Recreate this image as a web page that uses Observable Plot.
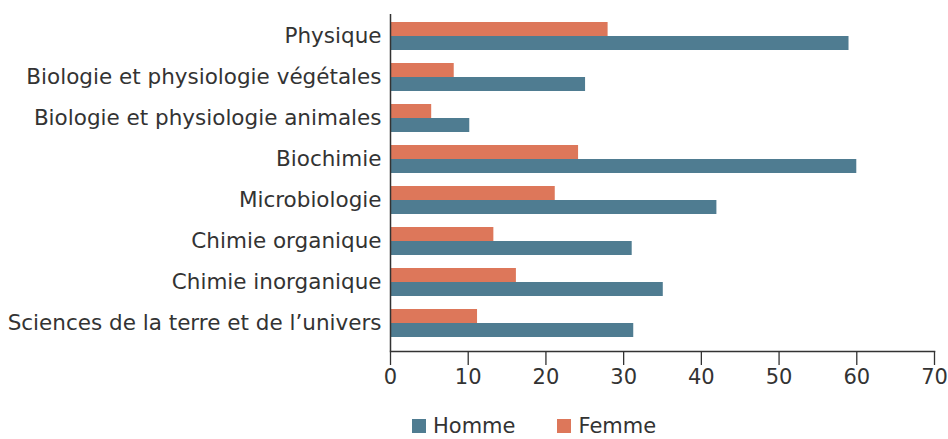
<!DOCTYPE html>
<html>
<head>
<meta charset="utf-8">
<script src="https://cdn.jsdelivr.net/npm/d3@7"></script>
<script src="https://cdn.jsdelivr.net/npm/@observablehq/plot@0.6"></script>
<style>
  html, body { margin: 0; padding: 0; background: #fff; }
  body { width: 948px; font-family: "DejaVu Sans", Verdana, sans-serif; color: #333; }
  #chart svg { display: block; }
  #legend { display: flex; justify-content: flex-start; height: 20px; line-height: 20px; margin-top: 16px; align-items: center; font-size: 21px; padding-left: 412px; box-sizing: border-box; }
  .item { display: flex; align-items: center; }
  .sw { width: 14px; height: 14px; margin-right: 7px; }
</style>
</head>
<body>
<div id="chart"></div>
<div id="legend"></div>
<script>
const categories = [
  "Physique",
  "Biologie et physiologie végétales",
  "Biologie et physiologie animales",
  "Biochimie",
  "Microbiologie",
  "Chimie organique",
  "Chimie inorganique",
  "Sciences de la terre et de l’univers"
];
const homme = [59, 25.1, 10.2, 60, 42, 31.1, 35.1, 31.3];
const femme = [28, 8.2, 5.3, 24.2, 21.2, 13.3, 16.2, 11.2];
const seriesNames = ["Homme", "Femme"];
const seriesColors = ["#4f7c91", "#dd775a"];
const xTicks = [0, 10, 20, 30, 40, 50, 60, 70];

const hommeData = categories.map((c, i) => ({category: c, value: homme[i]}));
const femmeData = categories.map((c, i) => ({category: c, value: femme[i]}));

const chart = Plot.plot({
  width: 948,
  height: 400,
  marginTop: 14,
  marginBottom: 49,
  marginLeft: 390,
  marginRight: 14,
  style: {fontFamily: "DejaVu Sans, Verdana, sans-serif", fontSize: "21.5px", color: "#333", background: "#fff"},
  x: {domain: [0, 70], ticks: xTicks, label: null},
  y: {domain: categories, paddingInner: 0.324, paddingOuter: 0.229, align: 0.37, label: null},
  marks: [
    Plot.barX(femmeData, {x: "value", y: "category", fill: seriesColors[1], insetBottom: 14, insetTop: 0}),
    Plot.barX(hommeData, {x: "value", y: "category", fill: seriesColors[0], insetTop: 14, insetBottom: 0}),
    Plot.axisX({ticks: xTicks, tickSize: 14, tickPadding: 4, stroke: "#333", strokeWidth: 1.3, fontSize: 21, fill: "#333", label: null}),
    Plot.axisY({tickSize: 0, tickPadding: 9, fontSize: 21.5, fill: "#333", label: null}),
    Plot.ruleX([0], {stroke: "#333", strokeWidth: 1.5}),
    Plot.frame({anchor: "bottom", stroke: "#333", strokeWidth: 1.5})
  ]
});
document.getElementById("chart").appendChild(chart);

const legend = document.getElementById("legend");
seriesNames.forEach((name, i) => {
  const item = document.createElement("div");
  item.className = "item";
  if (i > 0) item.style.marginLeft = "42px";
  const sw = document.createElement("div");
  sw.className = "sw";
  sw.style.background = seriesColors[i];
  const label = document.createElement("span");
  label.textContent = name;
  item.appendChild(sw);
  item.appendChild(label);
  legend.appendChild(item);
});
</script>
</body>
</html>
